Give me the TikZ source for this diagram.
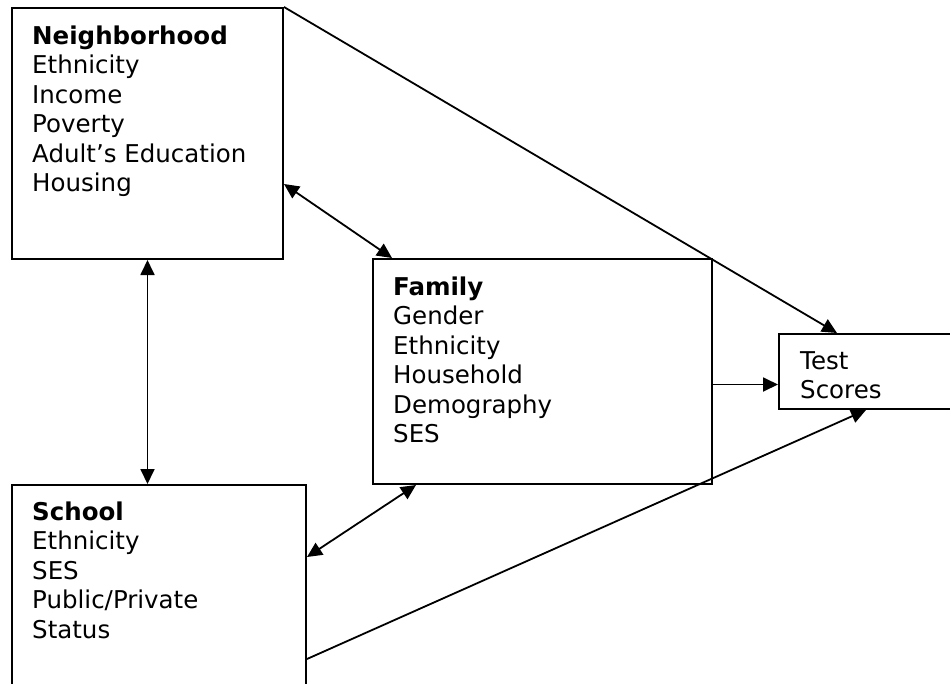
\documentclass[tikz,border=0pt]{standalone}
\usepackage{fontspec}
\setmainfont{DejaVu Sans}
\usetikzlibrary{arrows.meta,calc}
\begin{document}
\begin{tikzpicture}[x=1pt,y=-1pt,
  box/.style={draw,line width=2pt,inner sep=0pt,rectangle},
  lbl/.style={anchor=base west,inner sep=0pt,align=left,font=\fontsize{24.5}{29.5}\selectfont},
  conn/.style={line width=1.8pt},
  tip/.style={-{Triangle[length=15pt,width=14pt]}},
  tips/.style={{Triangle[length=15pt,width=14pt]}-{Triangle[length=15pt,width=14pt]}}]
\useasboundingbox (0,0) rectangle (950,683);
\clip (0,0) rectangle (950,683);
\node[box,minimum width=271pt,minimum height=251pt] (nb) at (147.5,133.5) {};
\node[box,minimum width=339pt,minimum height=225pt] (fam) at (542.5,371.5) {};
\node[box,minimum width=181pt,minimum height=75pt] (ts) at (869.5,371.5) {};
\node[box,minimum width=294pt,minimum height=215pt] (sch) at (159,592.5) {};
\node[lbl] (nbt) at (32,191.5) {\textbf{Neighborhood}\\Ethnicity\\Income\\Poverty\\Adult’s Education\\Housing};
\node[lbl] (famt) at (393,442.5) {\textbf{Family}\\Gender\\Ethnicity\\Household\\Demography\\SES};
\node[lbl] (tst) at (800,398.5) {Test\\Scores};
\node[lbl] (scht) at (32,638) {\textbf{School}\\Ethnicity\\SES\\Public/Private\\Status};
\draw[conn,tip] (nb.north east) -- ([xshift=59pt]ts.north west);
\draw[conn,tips] ([yshift=-177pt]nb.north east) -- ([xshift=20pt]fam.north west);
\draw[conn,tips] (nb.south) -- (nb.south |- sch.north);
\coordinate (tsin) at ([yshift=-13pt]ts.west);
\draw[conn,tip] (fam.east |- tsin) -- (tsin);
\draw[conn,tips] ([xshift=44pt]fam.south west) -- ([yshift=-73pt]sch.north east);
\draw[conn,tip] ([yshift=-175pt]sch.north east) -- ([xshift=88pt]ts.south west);
\end{tikzpicture}
\end{document}
